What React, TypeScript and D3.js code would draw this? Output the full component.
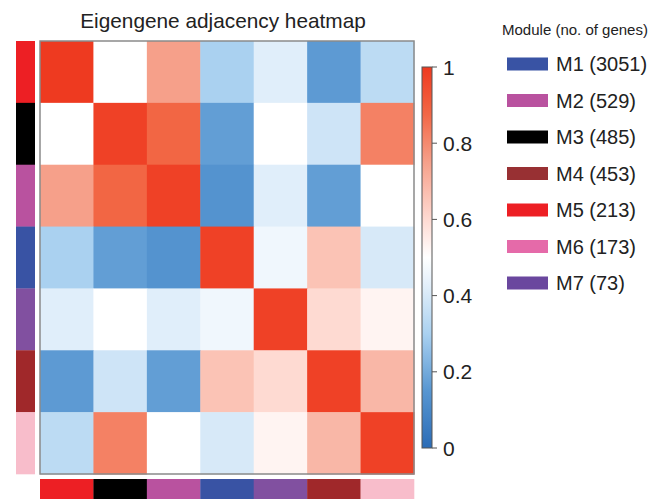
import { useMemo } from 'react'
import * as d3 from 'd3'

// Modules in heatmap order (top→bottom, left→right)
const ORDER = ['M5', 'M3', 'M2', 'M1', 'M7', 'M4', 'M6']
const BAR_COLORS = ['#ed1f24', '#000000', '#b9529f', '#3953a4', '#8150a0', '#a0282a', '#f8bdcb']

// Adjacency values
const ADJ = [
  [1.0, 0.5, 0.75, 0.3, 0.42, 0.16, 0.34],
  [0.5, 0.98, 0.88, 0.17, 0.5, 0.38, 0.82],
  [0.75, 0.88, 0.98, 0.14, 0.42, 0.17, 0.5],
  [0.3, 0.17, 0.14, 0.98, 0.46, 0.66, 0.4],
  [0.42, 0.5, 0.42, 0.46, 0.98, 0.6, 0.53],
  [0.16, 0.38, 0.17, 0.66, 0.6, 0.98, 0.69],
  [0.34, 0.82, 0.5, 0.4, 0.53, 0.69, 0.98],
]

const LEGEND_LABELS = ['M1 (3051)', 'M2 (529)', 'M3 (485)', 'M4 (453)', 'M5 (213)', 'M6 (173)', 'M7 (73)']
const LEGEND_COLORS = ['#3953a4', '#b9529f', '#000000', '#983033', '#ed1f24', '#e56aa9', '#6a479e']
const CB_TICKS = [0, 0.2, 0.4, 0.6, 0.8, 1]

// colour ramp stops
const RAMP_DOMAIN = [0, 0.15, 0.3, 0.42, 0.5, 0.6, 0.75, 0.88, 1]
const RAMP_COLORS = ['#2b6cb6', '#5796d1', '#aad1f0', '#e0eefa', '#ffffff', '#fedad2', '#f6a08a', '#f26644', '#ee3a20']

const W = 667
const H = 499
const FONT = 'Arial, "Liberation Sans", Helvetica, sans-serif'

const HM = { x0: 40, x1: 414, y0: 41, y1: 474 }

export default function App() {
  const x = d3.scaleBand<string>().domain(ORDER).range([HM.x0, HM.x1])
  const y = d3.scaleBand<string>().domain(ORDER).range([HM.y0, HM.y1])
  const color = d3
    .scaleLinear<string>()
    .domain(RAMP_DOMAIN)
    .range(RAMP_COLORS)
    .interpolate(d3.interpolateRgb)
    .clamp(true)

  const cbY = d3.scaleLinear().domain([0, 1]).range([448, 67])
  const cbX0 = 422
  const cbW = 10

  const stops = useMemo(() => d3.range(0, 1.0001, 0.025), [])

  return (
    <svg
      width={W}
      height={H}
      style={{ position: 'absolute', left: 0, top: 0, background: '#fff', fontFamily: FONT }}
    >
      <defs>
        <linearGradient id="cb" x1="0" y1="1" x2="0" y2="0">
          {stops.map((s) => (
            <stop key={s} offset={s} stopColor={color(s)} />
          ))}
        </linearGradient>
      </defs>

      <text x={223} y={28} textAnchor="middle" fontSize={20.8} fill="#222">
        Eigengene adjacency heatmap
      </text>

      {/* cells */}
      {ADJ.map((row, i) =>
        row.map((v, j) => (
          <rect
            key={`${i}-${j}`}
            x={x(ORDER[j])}
            y={y(ORDER[i])}
            width={x.bandwidth() + 0.5}
            height={y.bandwidth() + 0.5}
            fill={color(v)}
          />
        ))
      )}
      <rect
        x={HM.x0}
        y={HM.y0}
        width={HM.x1 - HM.x0}
        height={HM.y1 - HM.y0}
        fill="none"
        stroke="#8a8a8a"
        strokeWidth={1.5}
      />

      {/* side colour bars */}
      {ORDER.map((m, i) => (
        <rect key={`l${m}`} x={16} y={y(m)} width={19} height={y.bandwidth() + 0.3} fill={BAR_COLORS[i]} />
      ))}
      {ORDER.map((m, i) => (
        <rect key={`b${m}`} x={x(m)} y={479} width={x.bandwidth() + 0.3} height={25} fill={BAR_COLORS[i]} />
      ))}

      {/* colour bar */}
      <rect
        x={cbX0}
        y={cbY(1)}
        width={cbW}
        height={cbY(0) - cbY(1)}
        fill="url(#cb)"
        stroke="#555"
        strokeWidth={1}
      />
      {CB_TICKS.map((t) => (
        <g key={t}>
          <line x1={cbX0 + cbW} x2={cbX0 + cbW + 5} y1={cbY(t)} y2={cbY(t)} stroke="#555" strokeWidth={1} />
          <text x={443} y={cbY(t)} dominantBaseline="central" fontSize={21} fill="#222">
            {d3.format('~g')(t)}
          </text>
        </g>
      ))}

      {/* module legend */}
      <text x={575} y={35} textAnchor="middle" fontSize={15} fill="#222">
        Module (no. of genes)
      </text>
      {LEGEND_LABELS.map((lab, i) => {
        const cy = 64 + i * 36.5
        return (
          <g key={lab}>
            <rect x={507} y={cy - 6.5} width={41} height={13} fill={LEGEND_COLORS[i]} />
            <text x={556} y={cy} dominantBaseline="central" fontSize={20} fill="#222">
              {lab}
            </text>
          </g>
        )
      })}
    </svg>
  )
}
